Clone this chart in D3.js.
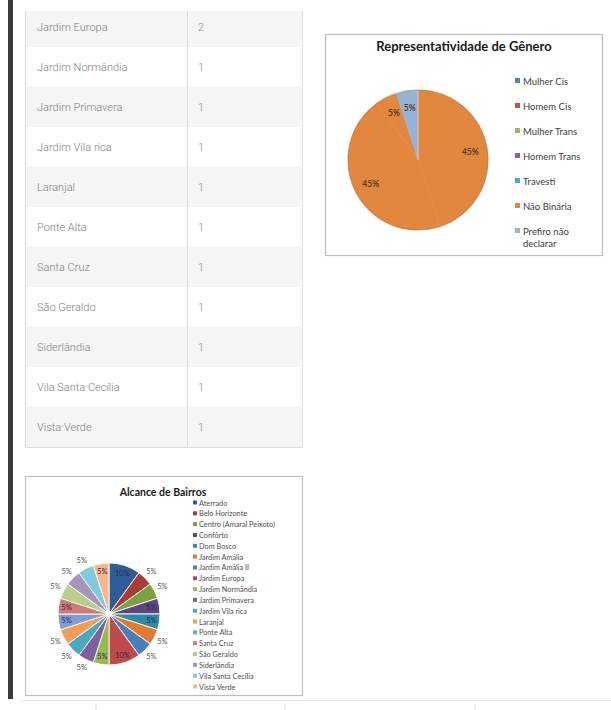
<!DOCTYPE html>
<html><head><meta charset="utf-8">
<script src="https://cdn.jsdelivr.net/npm/d3@7"></script>
<style>body{margin:0;background:#fff;} svg{display:block}</style>
</head><body><svg id="c" width="611" height="710"></svg>
<script>
// ---- data ----
const tableNames = ["Jardim Europa","Jardim Normândia","Jardim Primavera","Jardim Vila rica","Laranjal","Ponte Alta","Santa Cruz","São Geraldo","Siderlândia","Vila Santa Cecília","Vista Verde"];
const tableCounts = [2,1,1,1,1,1,1,1,1,1,1];

const genderTitle = "Representatividade de Gênero";
const genderCategories = ["Mulher Cis","Homem Cis","Mulher Trans","Homem Trans","Travesti","Não Binária","Prefiro não declarar"];
const genderPieCategories = ["Não Binária","Não Binária","Não Binária","Prefiro não declarar"];
const genderPieValues = [9,9,1,1];

const bairroTitle = "Alcance de Bairros";
const bairroCategories = ["Aterrado","Belo Horizonte","Centro (Amaral Peixoto)","Confôrto","Dom Bosco","Jardim Amália","Jardim Amália II","Jardim Europa","Jardim Normândia","Jardim Primavera","Jardim Vila rica","Laranjal","Ponte Alta","Santa Cruz","São Geraldo","Siderlândia","Vila Santa Cecília","Vista Verde"];
const bairroValues = [2,1,1,1,1,1,1,2,1,1,1,1,1,1,1,1,1,1];

// ---- styles ----
const genderPalette = ["#4F81BD","#C0504D","#9BBB59","#8064A2","#4BACC6","#E3873F","#95B3D7"];
const bairroPalette = ["#2E5C96","#A83C3A","#7DA041","#5B4680","#2F8BA3","#E07A30","#4A7EBB","#BE4B48","#98B954","#7D60A0","#46AAC5","#F59D56","#7DA0D0","#D07A78","#B8D08C","#A695C0","#7ECADF","#F9B88A"];
const chartFont = "Lato, 'Open Sans', sans-serif";

const svg = d3.select("#c");

// left dark bar
svg.append("rect").attr("x",8).attr("y",0).attr("width",5).attr("height",699).attr("fill","#3a3a3a");

// bottom line and ticks
svg.append("line").attr("x1",20).attr("x2",611).attr("y1",700.5).attr("y2",700.5).attr("stroke","#e6e6e6");
[96,285,475].forEach(x=>svg.append("line").attr("x1",x).attr("x2",x).attr("y1",704).attr("y2",710).attr("stroke","#d8d8d8"));

// ---- table ----
const defs = svg.append("defs");
defs.append("clipPath").attr("id","tclip").append("rect").attr("x",0).attr("y",11).attr("width",611).attr("height",700);
const yRow = d3.scaleBand().domain(tableNames).range([7,447]);
const tbl = svg.append("g").attr("clip-path","url(#tclip)");
const rows = tbl.selectAll("g.row").data(tableNames).join("g").attr("class","row")
  .attr("transform",d=>`translate(0,${yRow(d)})`);
rows.append("rect").attr("x",25).attr("width",277).attr("height",yRow.bandwidth())
  .attr("fill",(d,i)=>i%2===0?"#f5f5f5":"#ffffff");
rows.append("line").attr("x1",25).attr("x2",302).attr("y1",yRow.bandwidth()+0.5).attr("y2",yRow.bandwidth()+0.5).attr("stroke","#dcdcdc");
rows.append("text").attr("x",37).attr("y",yRow.bandwidth()/2+4).text(d=>d)
  .attr("font-family","Roboto, sans-serif").attr("font-weight",300).attr("font-size",11).attr("fill","#808080");
rows.append("text").attr("x",198).attr("y",yRow.bandwidth()/2+4).text((d,i)=>tableCounts[i])
  .attr("font-family","Roboto, sans-serif").attr("font-weight",300).attr("font-size",11).attr("fill","#909090");
tbl.append("line").attr("x1",25.5).attr("x2",25.5).attr("y1",7).attr("y2",448).attr("stroke","#dcdcdc");
tbl.append("line").attr("x1",187.5).attr("x2",187.5).attr("y1",7).attr("y2",448).attr("stroke","#dcdcdc");
tbl.append("line").attr("x1",302.5).attr("x2",302.5).attr("y1",7).attr("y2",448).attr("stroke","#e4e4e4");

// ---- gender chart ----
const g1 = svg.append("g");
g1.append("rect").attr("x",325.5).attr("y",34.5).attr("width",277).attr("height",221).attr("fill","#fff").attr("stroke","#bdbdbd").attr("stroke-width",1.2);
g1.append("text").attr("x",464).attr("y",51).attr("text-anchor","middle").text(genderTitle)
  .attr("font-family",chartFont).attr("font-weight",700).attr("font-size",13).attr("fill","#1a1a1a");
const gColor = d3.scaleOrdinal().domain(genderCategories).range(genderPalette);
const gPieData = genderPieCategories.map((c,i)=>({cat:c,value:genderPieValues[i]}));
const gPie = d3.pie().sort(null).value(d=>d.value)(gPieData);
const gTotal = d3.sum(genderPieValues);
const gR = 70;
const gArc = d3.arc().innerRadius(0).outerRadius(gR);
const gLab = d3.arc().innerRadius(53).outerRadius(53);
const gp = g1.append("g").attr("transform","translate(418,160)");
gp.selectAll("path").data(gPie).join("path").attr("d",gArc).attr("fill",d=>gColor(d.data.cat))
  .attr("stroke",d=>gColor(d.data.cat)).attr("stroke-width",0.5);
gp.append("line").attr("x1",0).attr("y1",0).attr("x2",0).attr("y2",-gR).attr("stroke","#f3d3b8").attr("stroke-width",0.8);
gp.append("circle").attr("r",gR).attr("fill","none").attr("stroke","rgba(120,60,10,0.25)").attr("stroke-width",1.2);
gp.selectAll("text").data(gPie).join("text")
  .attr("transform",d=>`translate(${gLab.centroid(d)})`).attr("dy","0.35em").attr("text-anchor","middle")
  .text(d=>Math.round(d.data.value/gTotal*100)+"%")
  .attr("font-family",chartFont).attr("font-weight",700).attr("font-size",8.5).attr("fill","#5a3a20");
const gLeg = g1.append("g");
const gLegY = d3.scalePoint().domain(genderCategories).range([81,231]);
genderCategories.forEach(c=>{
  const y = gLegY(c);
  gLeg.append("rect").attr("x",515).attr("y",y-3).attr("width",5).attr("height",5).attr("fill",gColor(c));
  const t = gLeg.append("text").attr("x",523).attr("y",y+3.5).attr("font-family",chartFont).attr("font-size",9.5).attr("fill","#404040");
  if (c==="Prefiro não declarar") {
    t.append("tspan").attr("x",523).text("Prefiro não");
    t.append("tspan").attr("x",523).attr("dy",12).text("declarar");
  } else t.text(c);
});

// ---- bairros chart ----
const g2 = svg.append("g");
g2.append("rect").attr("x",25.5).attr("y",476.5).attr("width",277).attr("height",219).attr("fill","#fff").attr("stroke","#bdbdbd").attr("stroke-width",1.2);
g2.append("text").attr("x",163).attr("y",496).attr("text-anchor","middle").text(bairroTitle)
  .attr("font-family",chartFont).attr("font-weight",700).attr("font-size",10.5).attr("fill","#1a1a1a");
const bColor = d3.scaleOrdinal().domain(bairroCategories).range(bairroPalette);
const bPieData = bairroCategories.map((c,i)=>({cat:c,value:bairroValues[i]}));
const bPie = d3.pie().sort(null).value(d=>d.value)(bPieData);
const bTotal = d3.sum(bairroValues);
const bR = 51;
const bArc = d3.arc().innerRadius(0).outerRadius(bR);
const bIn = d3.arc().innerRadius(43).outerRadius(43);
const bOut = d3.arc().innerRadius(60).outerRadius(60);
const bp = g2.append("g").attr("transform","translate(109,614)");
bp.selectAll("path").data(bPie).join("path").attr("d",bArc).attr("fill",d=>bColor(d.data.cat))
  .attr("stroke","#fff").attr("stroke-width",0.9);
bp.append("circle").attr("r",3).attr("fill","#fff");
const inside = d=>{
  const mid = ((d.startAngle+d.endAngle)/2)*180/Math.PI;
  const m = mid % 90; return Math.min(m, 90-m) < 20;
};
bp.selectAll("text").data(bPie).join("text")
  .attr("transform",d=>`translate(${(inside(d)?bIn:bOut).centroid(d)})`).attr("dy","0.35em").attr("text-anchor","middle")
  .text(d=>Math.round(d.data.value/bTotal*100)+"%")
  .attr("font-family",chartFont).attr("font-size",7.5).attr("fill",d=>inside(d)?"#2a2a50":"#555");
const bLegY = d3.scalePoint().domain(bairroCategories).range([503,687]);
bairroCategories.forEach(c=>{
  const y = bLegY(c);
  g2.append("rect").attr("x",193).attr("y",y-2.5).attr("width",4).attr("height",4).attr("fill",bColor(c));
  g2.append("text").attr("x",199).attr("y",y+2.5).text(c).attr("font-family",chartFont).attr("font-size",7.3).attr("fill","#505050");
});
</script>
</body></html>
